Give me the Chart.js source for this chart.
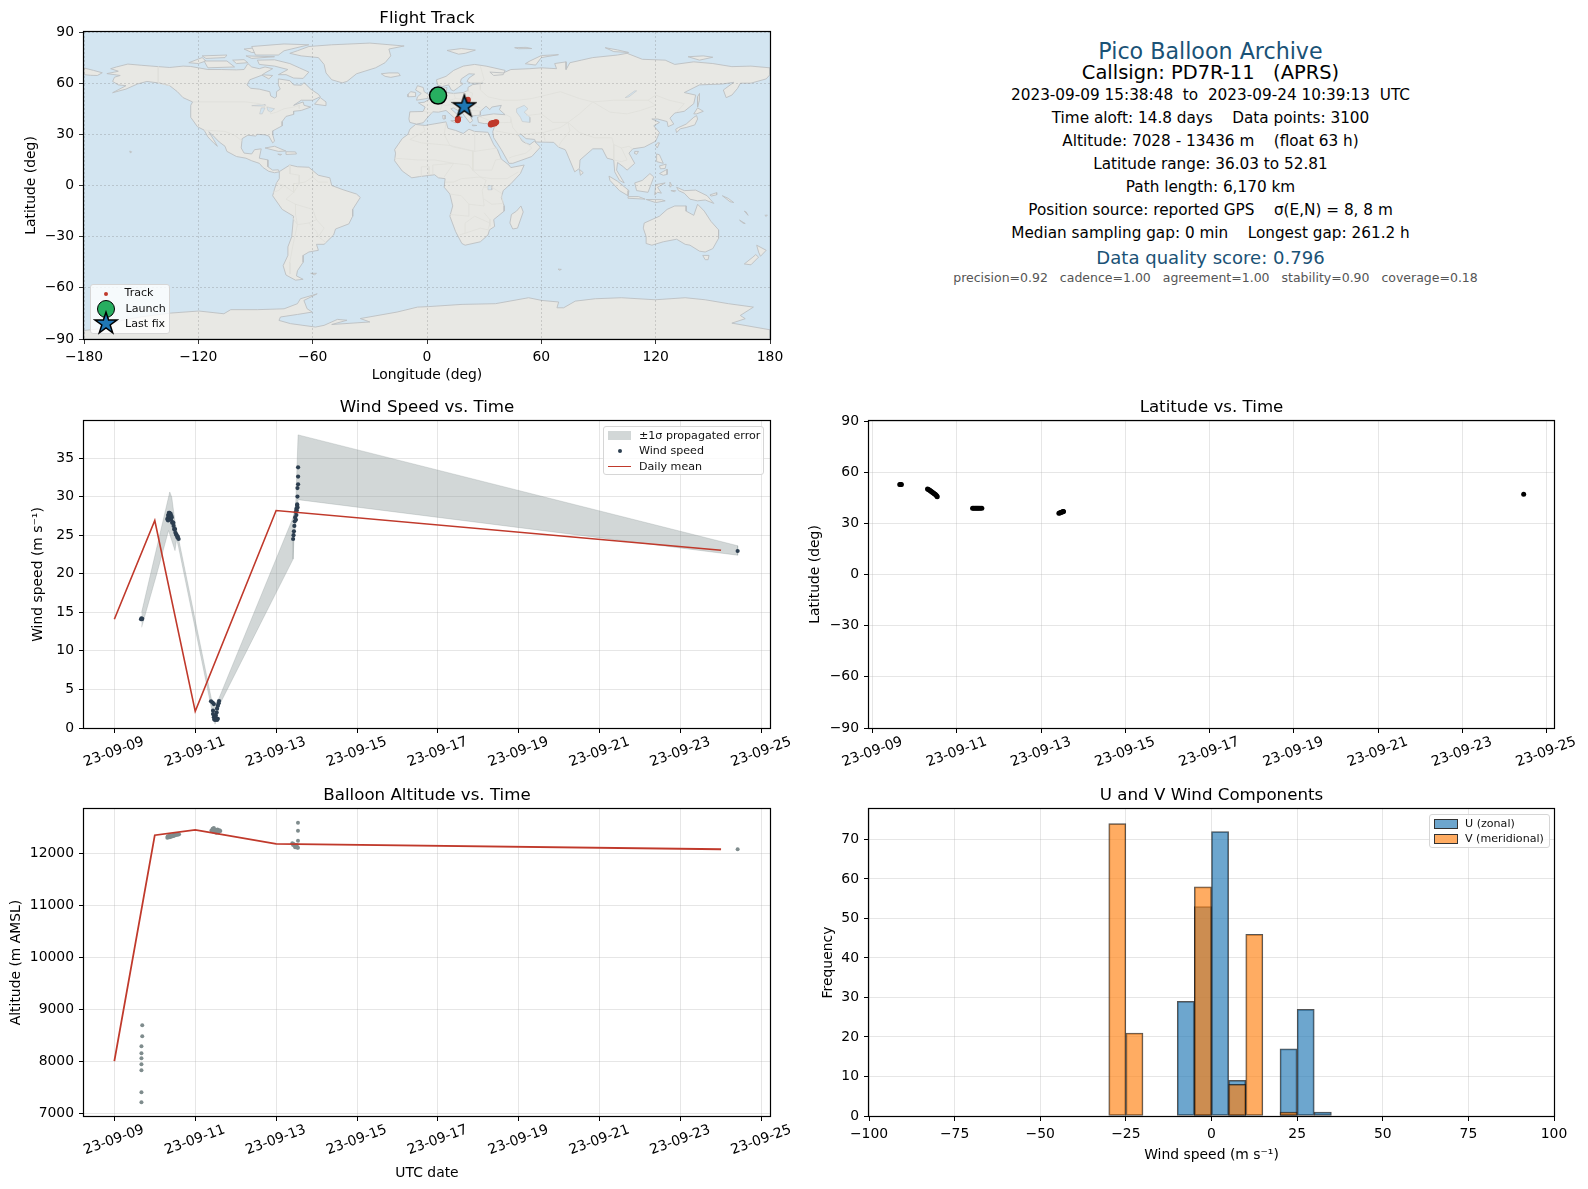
<!DOCTYPE html>
<html>
<head>
<meta charset="utf-8">
<title>Pico Balloon Archive</title>
<script src="https://cdn.jsdelivr.net/npm/chart.js@4/dist/chart.umd.js"></script>
<style>
  html, body { margin: 0; padding: 0; background: #fff; }
  #page { position: relative; width: 1588px; height: 1189px; overflow: hidden; font-family: "DejaVu Sans", sans-serif; }
  canvas.panel { position: absolute; }
  .info { position: absolute; width: 840px; text-align: center; height: 24px; line-height: 24px; white-space: pre; }
  .legend { position: absolute; box-sizing: border-box; background: rgba(255,255,255,.8); border: 1px solid #d6d6d6; border-radius: 3px; font-size: 11.1px; color: #111; }
  .legend span { position: absolute; white-space: pre; line-height: 14px; height: 14px; }
  .legend div, .legend canvas { position: absolute; }
</style>
</head>
<body>
<div id="page"></div>
<script>
// date ticks, shared by the time panels (days in Sept 2023)
const dateTicks = [9, 11, 13, 15, 17, 19, 21, 23, 25];
const dateLabels = ['23-09-09', '23-09-11', '23-09-13', '23-09-15', '23-09-17', '23-09-19', '23-09-21', '23-09-23', '23-09-25'];

const lonTicks = [-180, -120, -60, 0, 60, 120, 180];
const lonLabels = ['\u2212180', '\u2212120', '\u221260', '0', '60', '120', '180'];
const latTicks = [-90, -60, -30, 0, 30, 60, 90];
const latLabels = ['\u221290', '\u221260', '\u221230', '0', '30', '60', '90'];
const windTicks = [0, 5, 10, 15, 20, 25, 30, 35];
const altTicks = [7000, 8000, 9000, 10000, 11000, 12000];
const histXTicks = [-100, -75, -50, -25, 0, 25, 50, 75, 100];
const histXLabels = ['\u2212100', '\u221275', '\u221250', '\u221225', '0', '25', '50', '75', '100'];
const histYTicks = [0, 10, 20, 30, 40, 50, 60, 70];

// flight track
const trackLon = [5.8, 19.6, 20.0, 20.3, 20.6, 20.9, 21.2, 21.5, 16.1, 16.2, 16.3, 16.2, 33.4, 33.9, 34.4, 34.9, 35.4, 35.9, 36.4, 33.7, 34.6, 35.6, 19.6];
const trackLat = [52.7, 45.5, 46.3, 47.2, 48.1, 48.9, 49.6, 50.3, 38.2, 38.6, 38.9, 39.2, 35.7, 35.9, 36.2, 36.5, 36.8, 37.0, 37.2, 36.4, 36.7, 36.3, 46.7];
const launchLon = [5.8];
const launchLat = [52.7];
const lastLon = [19.6];
const lastLat = [46.7];

// wind speed samples
const windTimes = [9.66, 9.67, 9.68, 9.69,
  10.31, 10.32, 10.33, 10.34, 10.36, 10.37, 10.39, 10.40, 10.42, 10.44, 10.465, 10.49, 10.51, 10.54, 10.56, 10.59,
  10.33, 10.35, 10.38, 10.41, 10.43, 10.46, 10.48, 10.50, 10.53, 10.57,
  11.39, 11.43, 11.46, 11.44, 11.44, 11.46, 11.49, 11.54, 11.56, 11.51, 11.53, 11.54, 11.56, 11.59, 11.58, 11.47, 11.50, 11.52,
  13.42, 13.43, 13.44, 13.45, 13.46, 13.47, 13.485, 13.50, 13.52, 13.52, 13.527, 13.527, 13.543, 13.543, 13.543, 13.50, 13.49, 13.51, 13.53,
  24.41];
const windSpeeds = [14.1, 14.2, 14.1, 14.15,
  27.1, 27.0, 27.5, 27.7, 27.9, 27.3, 27.8, 27.0, 27.3, 26.7, 26.2, 25.7, 25.3, 25.0, 24.7, 24.5,
  26.9, 27.9, 27.6, 27.5, 26.6, 26.6, 25.8, 25.8, 25.1, 24.8,
  3.46, 3.3, 3.1, 2.25, 1.8, 1.4, 1.04, 1.04, 1.2, 1.6, 2.0, 2.5, 2.9, 3.5, 3.2, 1.1, 1.3, 1.1,
  24.5, 25.0, 25.5, 26.2, 26.8, 27.3, 28.0, 28.4, 28.8, 29.0, 30.0, 31.1, 31.6, 32.6, 33.8, 27.6, 27.0, 28.2, 28.6,
  22.95];
const dailyDays = [9, 10, 11, 13, 24];
const dailyWind = [14.1, 26.9, 2.16, 28.2, 23.05];
const dailyAlt = [8004, 12360, 12463, 12193, 12089];

// +-1 sigma band edges
const bandUpperTimes = [9.675, 10.37, 10.42, 10.50, 10.59, 11.40, 11.49, 11.59, 13.42, 13.485, 13.543, 24.41];
const bandUpperWind = [15.0, 30.6, 29.9, 26.7, 24.5, 3.76, 3.1, 3.9, 27.3, 29.0, 38.0, 23.63];
const bandLowerTimes = [9.675, 10.05, 10.34, 10.50, 10.54, 10.59, 11.38, 11.49, 11.59, 13.42, 13.44, 13.543, 24.41];
const bandLowerWind = [13.05, 20.0, 25.6, 23.0, 24.5, 23.4, 3.1, 0.5, 2.9, 21.9, 24.3, 29.6, 22.4];

// latitude samples
const latTimes = [9.64, 9.66, 9.68, 10.30, 10.32, 10.34, 10.36, 10.38, 10.40, 10.42, 10.44, 10.46, 10.48, 10.50, 10.52, 10.53,
  11.37, 11.40, 11.43, 11.46, 11.49, 11.52, 11.55, 11.59, 13.42, 13.44, 13.46, 13.48, 13.50, 13.52, 13.53, 24.46];
const latValues = [52.8, 52.8, 52.7, 50.1, 49.8, 49.5, 49.2, 48.8, 48.5, 48.1, 47.8, 47.4, 47.0, 46.6, 46.1, 45.6,
  38.8, 38.8, 38.8, 38.8, 38.8, 38.8, 38.8, 38.8, 35.9, 36.1, 36.3, 36.5, 36.7, 36.9, 37.0, 47.0];

// altitude samples
const altTimes = [9.69, 9.69, 9.67, 9.67, 9.67, 9.67, 9.67, 9.67, 9.67,
  10.31, 10.34, 10.37, 10.40, 10.43, 10.46, 10.49, 10.52, 10.55, 10.58, 10.60,
  10.32, 10.36, 10.40, 10.44, 10.48, 10.52, 10.56,
  11.40, 11.43, 11.46, 11.49, 11.52, 11.55, 11.58, 11.60, 11.62, 11.44, 11.48, 11.53, 11.57,
  13.40, 13.43, 13.46, 13.49, 13.52, 13.54, 13.54, 13.54, 13.54, 13.42, 13.47, 13.51,
  24.41];
const altValues = [8699, 8486, 8293, 8158, 8062, 7946, 7830, 7405, 7212,
  12310, 12320, 12322, 12330, 12338, 12345, 12354, 12362, 12367, 12375, 12380,
  12340, 12350, 12355, 12360, 12372, 12380, 12385,
  12450, 12483, 12500, 12440, 12405, 12470, 12431, 12455, 12440, 12430, 12470, 12440, 12410,
  12205, 12190, 12175, 12150, 12125, 12116, 12251, 12444, 12598, 12170, 12130, 12170,
  12090];

// U / V histogram, 5 m/s bins
const uBinCenters = [-7.5, -2.5, 2.5, 7.5, 22.5, 27.5, 32.5];
const uCounts = [29, 53, 72, 9, 17, 27, 1];
const vBinCenters = [-27.5, -22.5, -2.5, 7.5, 12.5, 22.5];
const vCounts = [74, 21, 58, 8, 46, 1];

// land outlines [lon, lat]
const northAmerica = [[-168,65.6],[-164,66.5],[-162,67],[-166,68.5],[-163,69.5],[-157,71.2],[-150,70.5],[-141,69.7],[-135,69.2],[-128,70],[-124,69.8],[-115,68],[-108,68],[-100,67.8],[-96,68],[-94,71.5],[-92,69.5],[-88,68.5],[-85,69.5],[-81,68.5],[-85,66],[-87,64.5],[-93,62],[-94.5,59],[-92.5,57],[-88,56.5],[-82.5,55],[-82,52.5],[-80,51.3],[-79,52],[-79,55],[-77,56.5],[-78,59],[-78,62.5],[-72,61.5],[-70,59],[-66,58.8],[-64.5,60.3],[-61,56.5],[-57,53.5],[-56,52],[-60,50],[-66,50],[-70,47],[-65,49],[-64.5,47],[-61,46],[-66,44],[-70,43.5],[-70,41.7],[-74,40.5],[-76,37.5],[-76,35],[-81,32],[-81,30],[-80,26],[-81,25],[-83,29],[-85,29.7],[-89,30],[-90,29],[-94,29.5],[-97,27.5],[-97.5,22],[-96,19],[-92,18.5],[-90.5,21],[-87,21.5],[-88,16],[-83.5,15],[-83.5,11],[-81,9],[-78,9.2],[-77.5,8],[-80,7.5],[-83,8.3],[-86,10.5],[-88,13],[-92,14.5],[-95,16],[-100,17],[-105,20],[-106,23],[-109,25.5],[-112.5,29.5],[-114.5,31.5],[-112,27],[-110,23],[-112,25],[-115,28.5],[-117,32.5],[-120.5,34.5],[-124,40],[-124,47],[-123,49],[-128,51.5],[-131,55],[-135,58.5],[-140,60],[-147,61],[-152,59.5],[-158,56.5],[-165,54.4],[-158,58.5],[-162,59],[-165,61],[-164,63.5],[-161,64.5],[-168,65.6]];
const greenland = [[-72,77.5],[-68,79],[-62,81.5],[-50,82.5],[-30,83.5],[-12,81.8],[-20,80],[-19,76],[-22,72],[-27,69],[-37,65.5],[-42,61],[-44.5,60.2],[-50,62],[-53,66],[-54,71],[-57,75],[-66,76],[-72,77.5]];
const baffin = [[-80,73.7],[-72,71.5],[-67,69],[-62,66.5],[-65,62.8],[-70,63],[-74,65],[-78,65],[-73,68],[-80,70],[-88,71],[-89,73.5],[-80,73.7]];
const victoriaIsland = [[-117,73],[-105,73],[-101,69.5],[-115,69],[-117,73]];
const ellesmere = [[-90,76.5],[-78,76.5],[-75,79],[-62,82.5],[-75,83],[-92,81.5],[-90,76.5]];
const axelHeiberg = [[-96,80],[-88,81],[-87,78],[-92,78],[-96,80]];
const banksIsland = [[-125,72],[-118,75],[-116,73],[-120,71.5],[-125,72]];
const devonIsland = [[-95,76],[-80,75.5],[-92,74.5],[-95,76]];
const melvilleIsland = [[-118,76],[-105,76.5],[-106,75],[-116,74.5],[-118,76]];
const princeOfWales = [[-102,73.5],[-96,73.8],[-94,72],[-100,71.5],[-102,73.5]];
const southampton = [[-87,65],[-81,64.5],[-83,62.5],[-87,65]];
const newfoundland = [[-59,47.7],[-53,46.8],[-53,49],[-56,51.5],[-59,47.7]];
const cuba = [[-85,22],[-80,23],[-74,20.2],[-78,20],[-85,22]];
const hispaniola = [[-74,19.8],[-69,19.7],[-68.5,18.5],[-74,18.2],[-74,19.8]];
const jamaica = [[-78.3,18.4],[-76.3,18.2],[-77,17.8],[-78.3,18.4]];
const hawaii = [[-156,20.2],[-155,19.8],[-155.6,19],[-156,20.2]];
const southAmerica = [[-77,8.5],[-72,12],[-68,11],[-62,10.7],[-57,6],[-51,4.5],[-50,0],[-44,-2.5],[-37,-5],[-35,-7],[-39,-14],[-39,-18],[-41,-22.5],[-48,-25.5],[-49,-29],[-54,-34.5],[-58,-34.5],[-57,-38],[-62,-39],[-65,-41],[-65,-45],[-68,-50],[-68.5,-53],[-65,-55],[-69,-55.5],[-74,-52.5],[-75.5,-47],[-73,-41],[-73,-36],[-71,-30],[-70,-18],[-76,-14],[-81,-6],[-80,-2],[-79,1.5],[-77.5,4],[-77.5,8],[-77,8.5]];
const falklands = [[-61,-51.5],[-58,-51.5],[-59,-52.3],[-61,-51.5]];
const africa = [[-6,35.8],[-1,35.2],[10,37.3],[11,33.5],[15,32.3],[19,30.5],[22,33],[25,31.7],[32,31.2],[32.5,30],[35,24],[37,21],[39,15.5],[43,12],[44,10.5],[51,12],[49,7],[44,1],[40,-3],[39,-7],[40.5,-12],[40.5,-15],[35,-20],[35.5,-24],[32.8,-26],[32,-29],[28,-33],[20,-35],[18.3,-34],[15,-27],[12,-18],[13.5,-12],[12,-5],[9,-1],[9.5,4],[6,4.5],[4,6.3],[-4,5.2],[-8,4.5],[-13,8.5],[-17,14.5],[-16.5,19],[-17,21],[-13,27.5],[-10,30],[-9,33],[-6,35.8]];
const madagascar = [[49.3,-12],[50.5,-15.5],[47.5,-25],[45,-25.5],[43.5,-22],[44.3,-17],[47,-15],[49.3,-12]];
const eurasia = [[-9,37],[-9.5,39],[-9,43.2],[-2,43.4],[-1,46],[-4.5,48.5],[-1.5,48.8],[2,51],[4,52],[7,53.5],[8.5,54],[8.2,57],[10.5,57.5],[10,54.5],[14,54],[19,54.5],[21,55.5],[21.5,57.5],[24,59.2],[29.5,60],[23,60],[21,61],[22,63],[25,65.3],[22,65.5],[18,62.5],[17.5,60.5],[19,59.7],[16.5,57.5],[14,55.5],[12.8,56],[11.3,59],[8,58],[5.5,59],[5,62],[10,64],[14,67.5],[19,70],[25,71],[31,70],[41,67.5],[40,65],[35,64.5],[33,66.5],[40,66],[44,68],[54,68.5],[60,69],[68,68.5],[67,71.5],[73,72.5],[73,68],[75,72],[81,73.5],[87,75],[100,76.5],[105,77.5],[113,74],[125,73.5],[130,71],[140,72.5],[150,71.5],[160,69.7],[170,70],[180,69],[180,65],[178,62.5],[170,60],[164.5,60],[163,57],[160,53],[157,51.5],[155.5,56],[161,60.5],[155,59.5],[143,59],[135,54.5],[141,53],[140,48],[135,43.5],[130,42.5],[127.5,39.5],[129.5,36],[126.5,34.5],[126,37.5],[121,39],[118,39],[122,37],[119,35],[122,31],[120,26],[114,22.5],[108,21.5],[106,19],[109,13],[105,9],[103,11],[100,13.5],[99.5,9],[103.5,1.5],[101,3],[98.5,8],[98,15],[94.5,16],[92,21.5],[87,21.5],[80.3,15],[80,10],[77.5,8],[73,20],[72.5,21],[69,22.5],[66.5,25.3],[57,25.5],[56.5,27],[52,27.5],[49,30.3],[48,29.5],[50,26],[51.5,25],[54,24],[56.3,26],[59.5,22.5],[55,17],[45,13],[43,13],[39,21],[35,28],[34.5,31.5],[36,36.5],[30,36.3],[27,37],[26.5,40],[29,41],[35,42],[41,41.5],[38,44.5],[39,47],[34,46],[33,44.5],[31,46.5],[28,43.5],[28,41.3],[24,40.8],[23,40],[24,38],[22.5,36.7],[19.5,41],[19,42],[14,45.5],[12.5,45],[16,41.5],[18.5,40],[16.5,39.5],[16,38],[12.5,41.5],[10,44],[6,43],[3,43.2],[0,39.5],[-2,36.8],[-5.5,36],[-9,37]];
const russiaFarEast = [[-180,68.9],[-175,67.5],[-170.4,66.1],[-173,64.5],[-176.5,64.6],[-180,65],[-180,68.9]];
const greatBritain = [[-5.5,50],[1.5,51.3],[1.7,52.7],[-1.5,55],[-2,57.5],[-5,58.5],[-6,56],[-3,54],[-5,52],[-5.5,50]];
const ireland = [[-10,52],[-6,52.2],[-6,54.5],[-8.5,55],[-10,53.5],[-10,52]];
const iceland = [[-24,65.5],[-22,64],[-19,63.4],[-14,64.5],[-15,66],[-20,66],[-24,65.5]];
const sicily = [[12.5,38],[15.5,38.2],[15,36.7],[12.5,38]];
const sardinia = [[8.2,41],[9.7,41],[9.5,39],[8.4,39],[8.2,41]];
const crete = [[23.6,35.5],[26.2,35.2],[24,35],[23.6,35.5]];
const cyprus = [[32.4,35],[34.5,35.6],[33.5,34.6],[32.4,35]];
const svalbard = [[10.5,79.2],[18,80.3],[25.4,79.4],[20,77.5],[16.6,77],[10.5,79.2]];
const franzJosef = [[46,80.8],[52,81],[55,80.3],[48,80.2],[46,80.8]];
const novayaZemlya = [[51.6,71.4],[57,70.6],[60,75],[69,76.7],[60,76.2],[54,73],[51.6,71.4]];
const severnayaZemlya = [[93.5,80.8],[100,79.5],[105.8,78],[98,78.5],[93.5,80.8]];
const newSiberian = [[137,75.5],[145,76],[150,75.2],[143,73.5],[137,75.5]];
const honshu = [[130.5,33],[132,34],[136,36],[140,40],[141.5,41],[142,39],[140.5,35.5],[136,34],[133,33.3],[131,31],[130.5,33]];
const hokkaido = [[140,42],[142,45.5],[145,43.5],[141.5,42],[140,42]];
const sakhalin = [[142,46],[143,50],[143,54],[142,52],[142,46]];
const sriLanka = [[80,9.5],[82,7.5],[80.5,6],[80,9.5]];
const taiwan = [[121,25],[122,25],[120.8,22],[120,23.5],[121,25]];
const hainan = [[109,20],[111,20],[110,18.2],[108.7,19],[109,20]];
const luzon = [[120.5,18.5],[122,18],[124,13],[120.5,14],[120.5,18.5]];
const visayas = [[122,11.5],[125.5,12.5],[125,10],[122.5,9.8],[122,11.5]];
const mindanao = [[122,7],[126,9.5],[126,6.5],[124,6],[122,7]];
const borneo = [[109,1.5],[113,3],[117,7],[119,5],[117.5,0.5],[116,-4],[110,-3],[109,1.5]];
const sumatra = [[95.5,5.5],[100,2.5],[106,-3],[105.5,-6],[101,-3],[96,3],[95.5,5.5]];
const java = [[105.5,-6.5],[111,-6.5],[114.5,-8],[106,-7.5],[105.5,-6.5]];
const lesserSunda = [[115,-8.2],[123,-8.3],[125,-9],[120,-10],[115,-8.2]];
const sulawesi = [[119.5,-5.5],[120,0.5],[125,1.5],[121,-1],[123,-4.5],[121,-4],[119.5,-5.5]];
const halmahera = [[127.5,2],[128.5,0],[127.5,-1],[127.5,2]];
const seram = [[128,-3],[130.5,-3],[130,-3.7],[128,-3]];
const newGuinea = [[131,-1],[135,-3],[141,-2.7],[147,-6],[150.5,-10.5],[146,-8.5],[142,-9],[138,-8],[135,-4.5],[132,-3],[131,-1]];
const newBritain = [[148.5,-5.5],[152,-4.2],[152,-5.5],[149,-6.2],[148.5,-5.5]];
const solomons = [[155,-6],[158,-7.5],[161,-10],[159,-9.5],[155,-6]];
const vanuatu = [[166.5,-15],[167.5,-15.5],[168.5,-17.5],[166.5,-15]];
const newCaledonia = [[164,-20.3],[167,-22.3],[166,-22.2],[164,-20.3]];
const fiji = [[177.3,-17.5],[178.6,-17.3],[178,-18.2],[177.3,-17.5]];
const australia = [[114,-22],[122,-18],[126,-14],[130,-12],[136,-12],[136,-15],[140,-17.5],[142,-11],[145.5,-15],[149,-21],[153,-26],[153,-31],[150,-37],[146,-39],[143,-38.5],[138,-35],[135.5,-34.5],[131,-31.5],[124,-33],[118,-35],[115,-34],[115,-30],[113.5,-25],[114,-22]];
const tasmania = [[144.7,-41],[148,-41],[147.5,-43.5],[146,-43.5],[144.7,-41]];
const kerguelen = [[68.8,-49],[70.5,-49.2],[69.5,-49.7],[68.8,-49]];
const newZealandNorth = [[173,-35],[178,-38],[175,-41.5],[174,-39],[173,-35]];
const newZealandSouth = [[172.5,-40.5],[174,-42],[170,-46.5],[166.5,-46],[171,-42],[172.5,-40.5]];
const antarctica = [[-180,-85],[-172,-84],[-160,-79],[-150,-77],[-134.5,-74.8],[-119.7,-73.6],[-106.6,-75.2],[-103,-72.8],[-89,-72.8],[-75,-72.3],[-68,-69.3],[-66.4,-66.4],[-57.6,-63.5],[-64.6,-67.4],[-62.9,-72.3],[-60.2,-74.2],[-68,-75.6],[-76.9,-77.1],[-77.7,-79.1],[-71.6,-81],[-58.5,-83],[-54,-82],[-47,-78.5],[-42,-79],[-50,-81.5],[-30,-80],[-35,-78],[-15.7,-74.2],[-5,-71.3],[0.9,-71],[18.4,-69.7],[35.9,-69.3],[53.3,-65.8],[60.3,-67.4],[69.1,-68.3],[68.2,-71.7],[71.7,-71.7],[77.8,-67.8],[88.3,-66.4],[102,-65.8],[119.8,-67],[135.5,-65.8],[146,-67],[158.2,-69.3],[171.3,-71.3],[164.4,-76.2],[167,-78.1],[160,-80.7],[180,-84.6],[180,-90],[-180,-90],[-180,-85]];
const landShapes = [northAmerica, greenland, baffin, victoriaIsland, ellesmere, axelHeiberg, banksIsland, devonIsland, melvilleIsland, princeOfWales, southampton, newfoundland, cuba, hispaniola, jamaica, hawaii, southAmerica, falklands, africa, madagascar, eurasia, russiaFarEast, greatBritain, ireland, iceland, sicily, sardinia, crete, cyprus, svalbard, franzJosef, novayaZemlya, severnayaZemlya, newSiberian, honshu, hokkaido, sakhalin, sriLanka, taiwan, hainan, luzon, visayas, mindanao, borneo, sumatra, java, lesserSunda, sulawesi, halmahera, seram, newGuinea, newBritain, solomons, vanuatu, newCaledonia, fiji, australia, tasmania, kerguelen, newZealandNorth, newZealandSouth, antarctica];

// lakes drawn back in ocean colour
const caspianSea = [[47,45],[51,47],[53,45],[51,43],[54,40],[54,37],[50,37.5],[49,40],[47,43],[47,45]];
const lakeSuperior = [[-92,46.8],[-85,47.5],[-85,46.6],[-88,46.6],[-92,46.8]];
const lakeMichigan = [[-87.8,42],[-86.5,42],[-85,45.5],[-87,45.5],[-87.8,42]];
const lakeHuron = [[-84,46],[-80,45],[-82,43],[-83.5,44],[-84,46]];
const lakeVictoria = [[32,0],[34,0],[34,-2.5],[32,-2.5],[32,0]];
const lakeBaikal = [[104,51.5],[106,52],[110,55.5],[109,55.5],[104,51.5]];
const lakeShapes = [caspianSea, lakeSuperior, lakeMichigan, lakeHuron, lakeVictoria, lakeBaikal];

// faint country borders
const borderUsCanada = [[-141,69.7],[-141,60],[-135,58.5]];
const borderUsCanada2 = [[-123,49],[-95,49],[-88,48],[-83,46],[-82,42],[-79,43],[-75,45],[-70,46],[-67,47],[-67,45]];
const borderUsMexico = [[-117,32.5],[-106,31.7],[-101,29.5],[-97,26]];
const borderBrazil = [[-60,5],[-64,2],[-70,1],[-70,-4],[-74,-8],[-69,-11],[-60,-14],[-58,-20],[-54,-25],[-57,-30],[-53,-33.5]];
const borderAndes = [[-71,-18],[-68,-23],[-70,-33],[-72,-45],[-72,-52]];
const borderBolivia = [[-69,-11],[-69,-17],[-68,-23],[-62,-22],[-58,-20]];
const borderColombia = [[-72,12],[-72,7],[-67,6],[-67,1],[-70,-4],[-75,0],[-79,1.5]];
const borderPeru = [[-75,0],[-78,-3],[-81,-4]];
const borderVenezuela = [[-60,8.5],[-60,5],[-57,2],[-52,2]];
const borderArgentina = [[-62,-22],[-58,-27],[-57,-30]];
const borderAfricaNorth = [[-9,27],[-3,25],[12,23.5],[25,20],[37,22]];
const borderAlgeria = [[-2,35],[-1,32],[-9,27]];
const borderLibya = [[10,37],[9,30],[12,23.5],[14,22.5],[25,20],[25,31.7]];
const borderSahel = [[-17,16],[-5,15],[4,15],[14,13],[22,12],[24,9],[34,9],[36,15],[39,15.5]];
const borderSudan = [[24,20],[24,9],[28,5],[34,4],[42,4],[48,8]];
const borderCongo = [[12,-5],[18,-6],[22,-11],[30,-12],[29,-3],[31,3],[28,5],[18,4],[14,2],[9.5,2]];
const borderNigeria = [[3,6.5],[3,12],[14,13],[9,5]];
const borderWestAfrica = [[-3,5],[-3,11],[1,11],[1,6]];
const borderSouthAfrica = [[17,-29],[20,-28],[20,-22],[25,-18],[33,-22],[32,-26],[28,-25],[20,-28]];
const borderAngola = [[12,-17],[22,-18],[22,-11]];
const borderTanzania = [[30,-1],[34,-1],[39,-4.5],[40,-10.5],[34,-11],[30,-8]];
const borderMozambique = [[30,-16],[33,-20],[33,-24]];
const borderRussia = [[28,70],[30,62],[28,60],[28,56],[32,52],[40,50],[48,50],[55,51],[70,55],[80,51],[87,49],[98,50],[107,50],[116,50],[120,53],[127,50],[135,48],[131,43]];
const borderMongolia = [[87,49],[96,43],[105,42],[112,44],[120,47],[116,50]];
const borderChinaIndia = [[74,37],[80,31],[88,28],[97,28],[98,24],[102,22],[106,23],[108,21.5]];
const borderCentralAsia = [[52,41],[60,42],[66,37],[74,37],[80,42],[87,49]];
const borderIran = [[44,39],[45,34],[48,30],[61,31],[62,26]];
const borderPakistan = [[61,31],[70,34],[74,37],[75,32],[70,25],[69,22.5]];
const borderArabia = [[36,32],[46,30],[48,29],[55,22],[52,19],[45,17],[43,16]];
const borderTurkey = [[26,41],[36,36.8],[44,37],[44,40],[41.5,41.5]];
const borderEuropeA = [[-2,43.4],[3,42.5]];
const borderEuropeB = [[2,51],[6,49.5],[8,48],[7,44]];
const borderEuropeC = [[7,53.5],[6,51],[6,49.5]];
const borderEuropeD = [[14,54],[15,51],[12,50],[13,47.5],[10,47],[7,47.5]];
const borderEuropeE = [[15,51],[23,50],[24,54],[21,55.5]];
const borderEuropeF = [[13,47.5],[17,48],[22,48],[28,45.5]];
const borderEuropeG = [[14,45.5],[19,46],[22,44],[28,43.7]];
const borderIndochina = [[98,24],[98,15],[102,14],[105,15],[102,22]];
const borderLines = [borderUsCanada, borderUsCanada2, borderUsMexico, borderBrazil, borderAndes, borderBolivia, borderColombia, borderPeru, borderVenezuela, borderArgentina, borderAfricaNorth, borderAlgeria, borderLibya, borderSahel, borderSudan, borderCongo, borderNigeria, borderWestAfrica, borderSouthAfrica, borderAngola, borderTanzania, borderMozambique, borderRussia, borderMongolia, borderChinaIndia, borderCentralAsia, borderIran, borderPakistan, borderArabia, borderTurkey, borderEuropeA, borderEuropeB, borderEuropeC, borderEuropeD, borderEuropeE, borderEuropeF, borderEuropeG, borderIndochina];

// text block, top right: text, centre y, size, colour, centre x
const infoLines = [
  ['Pico Balloon Archive', 51, 22.2, '#1a5276', 1210.5],
  ['Callsign: PD7R-11   (APRS)', 73, 19.44, '#000', 1210.5],
  ['2023-09-09 15:38:48  to  2023-09-24 10:39:13  UTC', 94.5, 15.28, '#000', 1210.5],
  ['Time aloft: 14.8 days    Data points: 3100', 117.5, 15.28, '#000', 1210.5],
  ['Altitude: 7028 - 13436 m    (float 63 h)', 140.5, 15.28, '#000', 1210.5],
  ['Latitude range: 36.03 to 52.81', 163.5, 15.28, '#000', 1210.5],
  ['Path length: 6,170 km', 186.5, 15.28, '#000', 1210.5],
  ['Position source: reported GPS    \u03c3(E,N) = 8, 8 m', 210, 15.28, '#000', 1210.5],
  ['Median sampling gap: 0 min    Longest gap: 261.2 h', 233, 15.28, '#000', 1210.5],
  ['Data quality score: 0.796', 257.5, 18.06, '#1a5276', 1210.5],
  ['precision=0.92   cadence=1.00   agreement=1.00   stability=0.90   coverage=0.18', 278, 12.5, '#555', 1215.5]
];

const RED = '#c0392b';
const OCEAN = '#d3e5f1';
const page = document.getElementById('page');

Chart.defaults.font.family = '"DejaVu Sans", sans-serif';
Chart.defaults.font.size = 13.9;
Chart.defaults.color = '#000';
Chart.defaults.animation = false;

function toPoints(pairs) {
  return pairs.map(p => ({ x: p[0], y: p[1] }));
}

function zip(xs, ys) {
  return xs.map((x, i) => ({ x: x, y: ys[i] }));
}

// five point star, the built-in 'star' style is only an asterisk
function makeStar() {
  const c = document.createElement('canvas');
  c.width = 26; c.height = 26;
  const g = c.getContext('2d');
  g.beginPath();
  for (let i = 0; i < 10; i++) {
    const r = i % 2 ? 4.4 : 11.4;
    const a = -Math.PI / 2 + i * Math.PI / 5;
    g.lineTo(13 + r * Math.cos(a), 13.6 + r * Math.sin(a));
  }
  g.closePath();
  g.fillStyle = '#1f77b4';
  g.fill();
  g.lineWidth = 1.5;
  g.strokeStyle = '#000';
  g.lineJoin = 'miter';
  g.stroke();
  return c;
}

// box around the plot, top and right included
const framePlugin = {
  id: 'frame',
  beforeDraw(chart, args, opts) {
    const a = chart.chartArea;
    if (opts.background) {
      chart.ctx.fillStyle = opts.background;
      chart.ctx.fillRect(a.left, a.top, a.width, a.height);
    }
    // labels centred on their tick like matplotlib rotation=20
    const x = chart.scales.x;
    if (x.labelRotation) {
      x.getLabelItems(a).forEach(item => {
        item.options.textAlign = 'center';
        item.options.textBaseline = 'middle';
        item.textOffset = 0;
        item.options.translation = [item.options.translation[0] + 2.5, a.bottom + 24];
      });
    }
  },
  afterDraw(chart) {
    const a = chart.chartArea, ctx = chart.ctx;
    ctx.save();
    ctx.strokeStyle = '#000';
    ctx.lineWidth = 1.2;
    ctx.strokeRect(Math.round(a.left) - 0.5, Math.round(a.top) - 0.5, Math.round(a.width) + 1, Math.round(a.height) + 1);
    ctx.restore();
  }
};

// every panel gets a fixed plot box so the layout lines up with the reference
function panel(cfg) {
  const canvas = document.createElement('canvas');
  canvas.className = 'panel';
  const plotH = 307;
  canvas.width = cfg.canvasW;
  canvas.height = 28 + plotH + cfg.axisH;
  canvas.style.left = cfg.left + 'px';
  canvas.style.top = (cfg.plotTop - 28) + 'px';
  page.appendChild(canvas);

  const grid = cfg.gridStyle || { color: 'rgba(176,176,176,.32)', lineWidth: 1 };
  const border = { display: false, dash: cfg.gridDash || [] };
  const xScale = {
    type: 'linear', min: cfg.xMin, max: cfg.xMax, offset: false,
    afterFit: s => { s.height = cfg.axisH; },
    afterBuildTicks: s => { s.ticks = cfg.xTicks.map(v => ({ value: v })); },
    grid: Object.assign({ tickColor: '#000', tickLength: 5, offset: false }, grid),
    border: border,
    ticks: {
      autoSkip: false, padding: 5,
      minRotation: cfg.rotate || 0, maxRotation: cfg.rotate || 0,
      callback: (v, i) => cfg.xLabels[i]
    },
    title: cfg.xTitle ? {
      display: true, text: cfg.xTitle, color: '#000',
      padding: { top: 0, bottom: cfg.axisH - cfg.xTitleDist - 8.3 }
    } : { display: false }
  };
  const yScale = {
    type: 'linear', min: cfg.yMin, max: cfg.yMax,
    afterFit: s => { s.width = cfg.plotLeft; },
    afterBuildTicks: s => { s.ticks = cfg.yTicks.map(v => ({ value: v })); },
    grid: Object.assign({ tickColor: '#000', tickLength: 5 }, grid),
    border: border,
    ticks: { padding: 5, callback: (v, i) => cfg.yLabels ? cfg.yLabels[i] : String(v) },
    title: {
      display: true, text: cfg.yTitle, color: '#000',
      padding: { top: cfg.yTitlePad, bottom: 0 }
    }
  };
  return new Chart(canvas, {
    type: cfg.type || 'scatter',
    data: { datasets: cfg.datasets },
    plugins: [framePlugin],
    options: {
      responsive: false,
      events: [],
      layout: { padding: { left: 0, right: cfg.rightPad, top: 0, bottom: 0 } },
      scales: { x: xScale, y: yScale },
      datasets: { bar: { barPercentage: 1, categoryPercentage: 1, grouped: false } },
      plugins: {
        legend: { display: false },
        tooltip: { enabled: false },
        frame: { background: cfg.background },
        title: {
          display: true, text: cfg.title, fullSize: false, color: '#000',
          font: { size: 16.67, weight: 'normal' },
          padding: { top: 5, bottom: 3 }
        }
      }
    }
  });
}

function legend(box, items) {
  const d = document.createElement('div');
  d.className = 'legend';
  d.style.cssText = `left:${box[0]}px;top:${box[1]}px;width:${box[2]}px;height:${box[3]}px`;
  items.forEach(it => {
    const t = document.createElement('span');
    t.textContent = it.text;
    t.style.left = it.textX + 'px';
    t.style.top = (it.y - 7) + 'px';
    d.appendChild(t);
    if (it.node) d.appendChild(it.node);
  });
  page.appendChild(d);
}

function swatch(css) {
  const s = document.createElement('div');
  s.style.cssText = css;
  return s;
}

const star = makeStar();

// flight track map
panel({
  title: 'Flight Track', left: 0, canvasW: 790, rightPad: 20, plotLeft: 84, plotTop: 32, axisH: 50,
  xMin: -180, xMax: 180, yMin: -90, yMax: 90,
  xTicks: lonTicks, xLabels: lonLabels, yTicks: latTicks, yLabels: latLabels,
  xTitle: 'Longitude (deg)', xTitleDist: 36, yTitle: 'Latitude (deg)', yTitlePad: 23,
  background: OCEAN,
  gridStyle: { color: 'rgba(110,110,110,.32)', lineWidth: 0.8, z: 1 },
  gridDash: [2, 2],
  datasets: [
    { data: zip(launchLon, launchLat), backgroundColor: '#27ae60', borderColor: '#000', pointRadius: 8.5, borderWidth: 1.5, order: 1 },
    { data: zip(lastLon, lastLat), pointStyle: star, pointRadius: 11, order: 0 },
    { data: zip(trackLon, trackLat), backgroundColor: RED, borderWidth: 0, pointRadius: 2.9, order: 2 }
  ].concat(
    borderLines.map(l => ({ data: toPoints(l), showLine: true, pointRadius: 0, borderColor: '#dfdfdb', borderWidth: 0.8, order: 3 })),
    lakeShapes.map(l => ({ data: toPoints(l), showLine: true, fill: 'shape', pointRadius: 0, backgroundColor: OCEAN, borderColor: '#c2c6c8', borderWidth: 0.6, order: 4 })),
    landShapes.map(l => ({ data: toPoints(l), showLine: true, fill: 'shape', pointRadius: 0, backgroundColor: '#e8e8e4', borderColor: '#bcc0c2', borderWidth: 0.9, order: 5 }))
  )
});

// wind speed
panel({
  title: 'Wind Speed vs. Time', left: 0, canvasW: 790, rightPad: 20, plotLeft: 84, plotTop: 421, axisH: 60,
  xMin: 8.25, xMax: 25.21, yMin: 0, yMax: 39.8, rotate: 20,
  xTicks: dateTicks, xLabels: dateLabels, yTicks: windTicks,
  yTitle: 'Wind speed (m s\u207b\u00b9)', yTitlePad: 30,
  datasets: [
    { data: zip(dailyDays, dailyWind), showLine: true, pointRadius: 0, borderColor: RED, borderWidth: 1.6, order: 0 },
    { data: zip(windTimes, windSpeeds), backgroundColor: '#2c3e50', borderWidth: 0, pointRadius: 2.1, order: 1 },
    {
      data: zip(bandUpperTimes, bandUpperWind).concat(zip(bandLowerTimes, bandLowerWind).reverse()),
      showLine: true, fill: 'shape', pointRadius: 0,
      backgroundColor: 'rgba(127,140,141,.35)', borderColor: 'rgba(127,140,141,.25)', borderWidth: 1, order: 2
    }
  ]
});

// latitude
panel({
  title: 'Latitude vs. Time', left: 790, canvasW: 798, rightPad: 34, plotLeft: 79, plotTop: 421, axisH: 60,
  xMin: 8.91, xMax: 25.18, yMin: -90, yMax: 90, rotate: 20,
  xTicks: dateTicks, xLabels: dateLabels, yTicks: latTicks, yLabels: latLabels,
  yTitle: 'Latitude (deg)', yTitlePad: 17,
  datasets: [
    { data: zip(latTimes, latValues), backgroundColor: '#000', borderWidth: 0, pointRadius: 2.5 }
  ]
});

// altitude
panel({
  title: 'Balloon Altitude vs. Time', left: 0, canvasW: 790, rightPad: 20, plotLeft: 84, plotTop: 809, axisH: 70,
  xMin: 8.25, xMax: 25.21, yMin: 6948, yMax: 12865, rotate: 20,
  xTicks: dateTicks, xLabels: dateLabels, yTicks: altTicks,
  xTitle: 'UTC date', xTitleDist: 57.3, yTitle: 'Altitude (m AMSL)', yTitlePad: 8,
  datasets: [
    { data: zip(dailyDays, dailyAlt), showLine: true, pointRadius: 0, borderColor: RED, borderWidth: 1.8, order: 0 },
    { data: zip(altTimes, altValues), backgroundColor: '#7f8c8d', borderWidth: 0, pointRadius: 2, order: 1 }
  ]
});

// histogram
panel({
  type: 'bar',
  title: 'U and V Wind Components', left: 790, canvasW: 798, rightPad: 34, plotLeft: 79, plotTop: 809, axisH: 50,
  xMin: -100, xMax: 100, yMin: 0, yMax: 77.7,
  xTicks: histXTicks, xLabels: histXLabels, yTicks: histYTicks,
  xTitle: 'Wind speed (m s\u207b\u00b9)', xTitleDist: 39.9, yTitle: 'Frequency', yTitlePad: 30,
  datasets: [
    { data: zip(vBinCenters, vCounts), backgroundColor: 'rgba(255,127,14,.65)', borderColor: 'rgba(20,20,20,.72)', borderWidth: 1.1, borderSkipped: false, order: 0 },
    { data: zip(uBinCenters, uCounts), backgroundColor: 'rgba(31,119,180,.65)', borderColor: 'rgba(20,20,20,.72)', borderWidth: 1.1, borderSkipped: false, order: 1 }
  ]
});

// info block
infoLines.forEach(l => {
  const d = document.createElement('div');
  d.className = 'info';
  d.textContent = l[0];
  d.style.left = (l[4] - 420) + 'px';
  d.style.top = (l[1] - 12) + 'px';
  d.style.fontSize = l[2] + 'px';
  d.style.color = l[3];
  page.appendChild(d);
});

// legends sit inside the plots, so they are plain html boxes
const legendStar = makeStar();
legendStar.style.cssText = 'left:2px;top:25px';
legend([89.5, 284, 80, 50], [
  { text: 'Track', textX: 34, y: 8, node: swatch('left:13px;top:7px;width:4px;height:4px;border-radius:50%;background:' + RED) },
  { text: 'Launch', textX: 35, y: 23.5, node: swatch('left:6px;top:15px;width:18px;height:18px;box-sizing:border-box;border-radius:50%;border:1.5px solid #000;background:#27ae60') },
  { text: 'Last fix', textX: 34.5, y: 38.5, node: legendStar }
]);
legend([603, 426, 161, 49], [
  { text: '\u00b11\u03c3 propagated error', textX: 35, y: 9, node: swatch('left:4px;top:4px;width:23px;height:9px;background:rgba(127,140,141,.35)') },
  { text: 'Wind speed', textX: 35, y: 24, node: swatch('left:14px;top:22px;width:4px;height:4px;border-radius:50%;background:#2c3e50') },
  { text: 'Daily mean', textX: 35, y: 40, node: swatch('left:4px;top:38.5px;width:23px;height:1.6px;background:' + RED) }
]);
legend([1429, 814, 121, 34], [
  { text: 'U (zonal)', textX: 35, y: 9, node: swatch('left:4px;top:4px;width:22px;height:8px;border:1px solid #333;background:rgba(31,119,180,.65)') },
  { text: 'V (meridional)', textX: 35, y: 24, node: swatch('left:4px;top:19px;width:22px;height:8px;border:1px solid #333;background:rgba(255,127,14,.65)') }
]);
</script>
</body>
</html>
